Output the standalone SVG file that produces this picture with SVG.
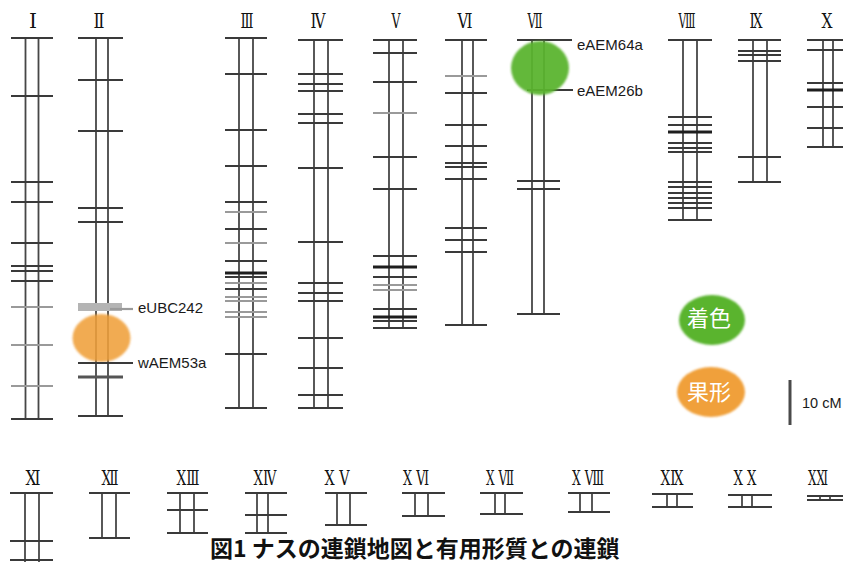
<svg xmlns="http://www.w3.org/2000/svg" width="843" height="566" viewBox="0 0 843 566">
  <defs>
    <filter id="soft" x="-20%" y="-20%" width="140%" height="140%">
      <feGaussianBlur stdDeviation="1.2"/>
    </filter>
  </defs>
  <style>
    .rail { stroke: #474747; stroke-width: 1.8; fill: none; }
    .tick { stroke: #3a3a3a; stroke-width: 1.8; fill: none; }
    .lt { stroke: #9a9a9a; stroke-width: 2.2; fill: none; }
    .dk { stroke: #1e1e1e; stroke-width: 3; fill: none; }
    .num { font-family: "DejaVu Serif", "Liberation Serif", serif; font-size: 21px; fill: #111; text-anchor: middle; }
    .mk { font-family: "Liberation Sans", Arial, sans-serif; font-size: 15px; fill: #1a1a1a; }
    .leg { font-family: "Noto Sans CJK JP", sans-serif; font-size: 22px; fill: #fff; text-anchor: middle; }
    .cap { font-family: "Noto Sans CJK JP", sans-serif; font-size: 23px; font-weight: bold; fill: #111; }
  </style>
  <rect width="843" height="566" fill="#fff"/>

  <!-- linkage groups, top row -->
  <g id="chr-I">
    <text class="num" x="33" y="28" textLength="8" lengthAdjust="spacingAndGlyphs">Ⅰ</text>
    <path class="rail" d="M25.5 38V419M38.5 38V419"/>
    <path class="tick" d="M11 38H53M11 96H53M11 182H53M11 202H53M11 243H53M11 266H53M11 271H53M11 281H53M11 419H53"/>
    <path class="lt" d="M11 307H53M11 345H53M11 386H53"/>
  </g>
  <g id="chr-II">
    <text class="num" x="99" y="28" textLength="11" lengthAdjust="spacingAndGlyphs">Ⅱ</text>
    <path class="rail" d="M96 38V416M108 38V416"/>
    <path class="tick" d="M78 38H123M78 80H123M78 131H123M78 208H123M78 222H123M78 416H123"/>
    <rect x="78" y="303" width="44" height="8" fill="#b4b4b4"/>
    <path class="dk" d="M78 377H123" style="stroke:#555"/>
  </g>
  <g id="chr-III">
    <text class="num" x="247" y="28" textLength="13" lengthAdjust="spacingAndGlyphs">Ⅲ</text>
    <path class="rail" d="M239 38V408M253 38V408"/>
    <path class="tick" d="M225 38H267M225 74H267M225 130H267M225 166H267M225 202H267M225 229H267M225 261H267M225 277H267M225 289H267M225 354H267M225 408H267"/>
    <path class="lt" d="M225 212H267M225 243H267M225 283H267M225 297H267M225 301H267M225 312H267M225 317H267"/>
    <path class="dk" d="M225 273H267"/>
  </g>
  <g id="chr-IV">
    <text class="num" x="318" y="28" textLength="15" lengthAdjust="spacingAndGlyphs">Ⅳ</text>
    <path class="rail" d="M314 40V408M328 40V408"/>
    <path class="tick" d="M298 40H343M298 74H343M298 84H343M298 91H343M298 114H343M298 123H343M298 168H343M298 242H343M298 283H343M298 293H343M298 301H343M298 338H343M298 368H343M298 395H343M298 408H343"/>
  </g>
  <g id="chr-V">
    <text class="num" x="396" y="28" textLength="9" lengthAdjust="spacingAndGlyphs">Ⅴ</text>
    <path class="rail" d="M389 40V328M403 40V328"/>
    <path class="tick" d="M373 40H417M373 53H417M373 82H417M373 157H417M373 189H417M373 256H417M373 277H417M373 309H417M373 321H417M373 328H417"/>
    <path class="lt" d="M373 113H417M373 285H417M373 290H417"/>
    <path class="dk" d="M373 267H417M373 317H417"/>
  </g>
  <g id="chr-VI">
    <text class="num" x="465" y="28" textLength="15" lengthAdjust="spacingAndGlyphs">Ⅵ</text>
    <path class="rail" d="M462 40V325M473 40V325"/>
    <path class="tick" d="M445 40H487M445 93H487M445 125H487M445 146H487M445 163H487M445 167H487M445 179H487M445 228H487M445 240H487M445 252H487M445 325H487"/>
    <path class="lt" d="M445 76H487"/>
  </g>
  <g id="chr-VII">
    <text class="num" x="535" y="28" textLength="15" lengthAdjust="spacingAndGlyphs">Ⅶ</text>
    <path class="rail" d="M532 40V314M544 40V314"/>
    <path class="tick" d="M517 40H572M527 90H573M517 181H560M517 189H560M517 314H560"/>
  </g>
  <g id="chr-VIII">
    <text class="num" x="687" y="28" textLength="17" lengthAdjust="spacingAndGlyphs">Ⅷ</text>
    <path class="rail" d="M683 40V220M697 40V220"/>
    <path class="tick" d="M668 40H712M668 117H712M668 125H712M668 143H712M668 148H712M668 152H712M668 182H712M668 187H712M668 193H712M668 198H712M668 203H712M668 208H712M668 220H712"/>
    <path class="dk" d="M668 132H712"/>
  </g>
  <g id="chr-IX">
    <text class="num" x="756" y="28" textLength="13" lengthAdjust="spacingAndGlyphs">Ⅸ</text>
    <path class="rail" d="M753 40V182M767 40V182"/>
    <path class="tick" d="M738 40H781M738 51H781M738 55H781M738 61H781M738 157H781M738 182H781"/>
  </g>
  <g id="chr-X">
    <text class="num" x="827" y="28" textLength="11" lengthAdjust="spacingAndGlyphs">Ⅹ</text>
    <path class="rail" d="M823 40V147M833 40V147"/>
    <path class="tick" d="M807 40H850M807 50H850M807 83H850M807 107H850M807 128H850M807 147H850"/>
    <path class="dk" d="M807 90H850"/>
  </g>

  <!-- linkage groups, bottom row -->
  <g id="chr-XI">
    <text class="num" x="33" y="485" textLength="15" lengthAdjust="spacingAndGlyphs">Ⅺ</text>
    <path class="rail" d="M25 493V562M39 493V562"/>
    <path class="tick" d="M10 493H53M10 541H53M10 560H53"/>
  </g>
  <g id="chr-XII">
    <text class="num" x="110" y="485" textLength="17" lengthAdjust="spacingAndGlyphs">Ⅻ</text>
    <path class="rail" d="M102 493V538M116 493V538"/>
    <path class="tick" d="M89 493H130M89 538H130"/>
  </g>
  <g id="chr-XIII">
    <text class="num" x="188" y="485" textLength="23" lengthAdjust="spacingAndGlyphs">XⅢ</text>
    <path class="rail" d="M180 493V533M194 493V533"/>
    <path class="tick" d="M167 493H208M167 510H208M167 533H208"/>
  </g>
  <g id="chr-XIV">
    <text class="num" x="265" y="485" textLength="23" lengthAdjust="spacingAndGlyphs">XⅣ</text>
    <path class="rail" d="M257 493V533M268 493V533"/>
    <path class="tick" d="M245 493H287M245 515H287M245 533H287"/>
  </g>
  <g id="chr-XV">
    <text class="num" x="337" y="485" textLength="25" lengthAdjust="spacingAndGlyphs">X Ⅴ</text>
    <path class="rail" d="M337 493V525M350 493V525"/>
    <path class="tick" d="M325 493H367M325 525H367"/>
  </g>
  <g id="chr-XVI">
    <text class="num" x="416" y="485" textLength="26" lengthAdjust="spacingAndGlyphs">X Ⅵ</text>
    <path class="rail" d="M415 493V516M428 493V516"/>
    <path class="tick" d="M402 493H445M402 516H445"/>
  </g>
  <g id="chr-XVII">
    <text class="num" x="500" y="485" textLength="28" lengthAdjust="spacingAndGlyphs">X Ⅶ</text>
    <path class="rail" d="M495 493V514M505 493V514"/>
    <path class="tick" d="M480 493H523M480 514H523"/>
  </g>
  <g id="chr-XVIII">
    <text class="num" x="588" y="485" textLength="32" lengthAdjust="spacingAndGlyphs">X Ⅷ</text>
    <path class="rail" d="M580 493V512M592 493V512"/>
    <path class="tick" d="M568 493H610M568 512H610"/>
  </g>
  <g id="chr-XIX">
    <text class="num" x="672" y="485" textLength="23" lengthAdjust="spacingAndGlyphs">XⅨ</text>
    <path class="rail" d="M667 494V507M677 494V507"/>
    <path class="tick" d="M652 494H693M652 507H693"/>
  </g>
  <g id="chr-XX">
    <text class="num" x="745" y="485" textLength="23" lengthAdjust="spacingAndGlyphs">X Ⅹ</text>
    <path class="rail" d="M742 495V507M752 495V507"/>
    <path class="tick" d="M728 495H772M728 507H772"/>
  </g>
  <g id="chr-XXI">
    <text class="num" x="818" y="485" textLength="20" lengthAdjust="spacingAndGlyphs">XⅪ</text>
    <path class="rail" d="M820 496V500M830 496V500"/>
    <path class="tick" d="M807 496H850M807 500H850"/>
  </g>

  <!-- trait regions -->
  <g id="trait-shape">
    <ellipse cx="101.5" cy="338" rx="29" ry="24" fill="#f0a03a" opacity="0.88" filter="url(#soft)"/>
  </g>
  <g id="trait-colour">
    <ellipse cx="540" cy="68" rx="29" ry="27" fill="#5ab42f" opacity="0.94" filter="url(#soft)"/>
  </g>

  <!-- marker leaders -->
  <g id="connectors">
    <path class="lt" d="M110 309H133"/>
    <path class="tick" d="M78 363H133"/>
  </g>

  <!-- marker names -->
  <g id="markers">
    <text class="mk" x="138" y="313">eUBC242</text>
    <text class="mk" x="138" y="368">wAEM53a</text>
    <text class="mk" x="577" y="50">eAEM64a</text>
    <text class="mk" x="577" y="96">eAEM26b</text>
  </g>

  <!-- legend -->
  <g id="legend-colour">
    <ellipse cx="712" cy="320" rx="33" ry="25" fill="#5ab42f" filter="url(#soft)"/>
    <text class="leg" x="709" y="326">着色</text>
  </g>
  <g id="legend-shape">
    <ellipse cx="711" cy="392" rx="34" ry="25" fill="#f0a03a" filter="url(#soft)"/>
    <text class="leg" x="709" y="400">果形</text>
  </g>
  <g id="scale">
    <path d="M790 380V425" stroke="#4a4a4a" stroke-width="3"/>
    <text class="mk" x="802" y="408" style="font-size:14.5px">10 cM</text>
  </g>

  <text class="cap" x="210" y="557">図1 ナスの連鎖地図と有用形質との連鎖</text>
</svg>
